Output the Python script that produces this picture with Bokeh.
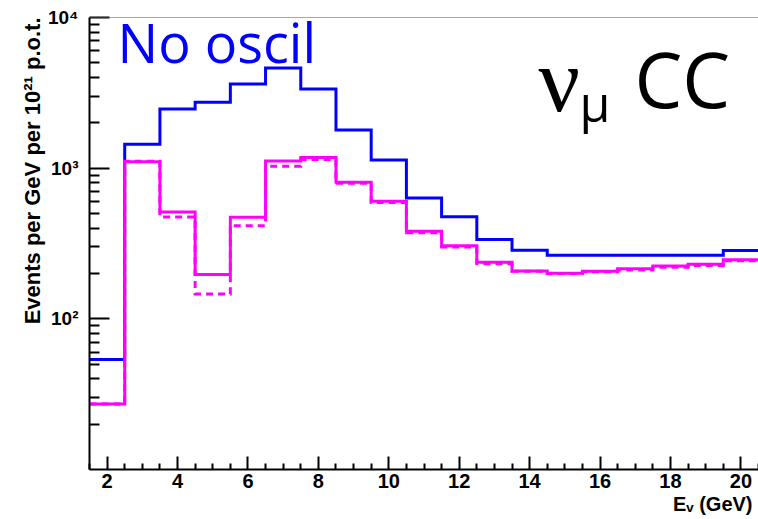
import math
from bokeh.plotting import figure
from bokeh.models import FixedTicker, CustomJSTickFormatter, Span, Title
from bokeh.core.properties import value
from bokeh.embed import file_html
from bokeh.resources import INLINE

# ---- data (events per GeV per 1e21 p.o.t., 1 GeV bins) ----
bin_edges = [1.5, 2.5, 3.5, 4.5, 5.5, 6.5, 7.5, 8.5, 9.5, 10.5, 11.5,
             12.5, 13.5, 14.5, 15.5, 16.5, 17.5, 18.5, 19.5, 20.5]
no_oscil = [53.7, 1439, 2473, 2740, 3614, 4621, 3350, 1792, 1131, 634,
            476, 336, 285, 264, 264, 264, 264, 264, 284]
oscil_solid = [27.2, 1101, 512, 197, 473, 1114, 1178, 807, 603, 382,
               305, 237, 208, 201, 207, 215, 224, 230, 247]
oscil_dashed = [27.2, 1110, 474, 146, 415, 1031, 1140, 795, 592, 372,
                300, 232, 207, 200, 205, 211, 220, 226, 243]
x_ticks = [2, 4, 6, 8, 10, 12, 14, 16, 18, 20]
x_minor = [1.5, 2.5, 3, 3.5, 4.5, 5, 5.5, 6.5, 7, 7.5, 8.5, 9, 9.5, 10.5, 11, 11.5,
           12.5, 13, 13.5, 14.5, 15, 15.5, 16.5, 17, 17.5, 18.5, 19, 19.5, 20.5]
y_ticks = [100, 1000, 10000]
y_minor = [20, 30, 40, 50, 60, 70, 80, 90, 200, 300, 400, 500, 600, 700, 800, 900,
           2000, 3000, 4000, 5000, 6000, 7000, 8000, 9000]
x_title = "E\u1d65 (GeV)"
y_title = "Events per GeV per 10\u00b2\u00b9 p.o.t."

BLUE = "#0000FF"
MAGENTA = "#FF00FF"

# frame geometry (screen px)
FL, FW, FT, FH = 89, 669, 17, 452
X0, X1 = 1.5, 20.5
Y0, Y1 = 10, 10000


def sx(px):
    return X0 + (px - FL) / FW * (X1 - X0)


def sy(py):
    return 10 ** (math.log10(Y1) - (py - FT) / FH * (math.log10(Y1) - math.log10(Y0)))


p = figure(width=758, height=519, y_axis_type="log",
           x_range=(X0, X1), y_range=(Y0, Y1),
           output_backend="svg", toolbar_location=None,
           min_border_left=FL, min_border_right=0,
           min_border_top=FT, min_border_bottom=519 - FT - FH)
p.background_fill_color = "white"
p.border_fill_color = "white"
p.outline_line_color = None
p.grid.visible = False


def steps(vals):
    return vals + [vals[-1]]


p.step(bin_edges, steps(no_oscil), mode="after", line_color=BLUE, line_width=3, line_join="miter")
p.step(bin_edges, steps(oscil_dashed), mode="after", line_color=MAGENTA, line_width=3,
       line_dash="7 5", line_join="miter")
p.step(bin_edges, steps(oscil_solid), mode="after", line_color=MAGENTA, line_width=3, line_join="miter")

p.add_layout(Span(location=Y1, dimension="width", line_color="#555555", line_width=1))

for ax in (p.xaxis[0], p.yaxis[0]):
    ax.axis_line_color = "black"
    ax.axis_line_width = 2
    ax.major_tick_line_color = "black"
    ax.major_tick_line_width = 2
    ax.minor_tick_line_color = "black"
    ax.minor_tick_line_width = 2
    ax.major_tick_out = 0
    ax.minor_tick_out = 0
    ax.major_label_text_font = "Liberation Sans"
    ax.major_label_text_font_style = "bold"
    ax.major_label_text_color = "black"

xa = p.xaxis[0]
xa.ticker = FixedTicker(ticks=x_ticks, minor_ticks=x_minor)
xa.major_tick_in = 13
xa.minor_tick_in = 6
xa.major_label_text_font_size = "20px"
xa.major_label_standoff = 4

ya = p.yaxis[0]
ya.ticker = FixedTicker(ticks=y_ticks, minor_ticks=y_minor)
ya.major_tick_in = 20
ya.minor_tick_in = 10
ya.major_label_text_font_size = "19px"
ya.major_label_standoff = 11
ya.formatter = CustomJSTickFormatter(code="""
const e = Math.round(Math.log10(tick));
const sup = {2: "\u00b2", 3: "\u00b3", 4: "\u2074"};
return "10" + (sup[e] || "");
""")

# axis titles, right-aligned at the axis ends (ROOT style)
p.add_layout(Title(text=x_title, align="right", offset=6, standoff=0,
                   text_font="Liberation Sans", text_font_style="bold",
                   text_font_size="20px", text_color="black"), "below")
p.add_layout(Title(text=y_title, align="right", standoff=0,
                   text_font="Liberation Sans", text_font_style="bold",
                   text_font_size="22px", text_color="black"), "left")

# in-plot texts (glyphs)
p.text(x=[sx(117)], y=[sy(41)], text=["No oscil"], text_align="left", text_baseline="alphabetic",
       text_font=value("Open Sans"), text_font_size="54px", text_color=BLUE)
p.text(x=[sx(538)], y=[sy(79)], text=["\u03bd"], text_align="left", text_baseline="alphabetic",
       text_font=value("Liberation Serif"), text_font_size="92px", text_color="black")
p.text(x=[sx(579)], y=[sy(102)], text=["\u03bc"], text_align="left", text_baseline="alphabetic",
       text_font=value("Open Sans"), text_font_size="50px", text_color="black")
p.text(x=[sx(634)], y=[sy(78)], text=["CC"], text_align="left", text_baseline="alphabetic",
       text_font=value("Open Sans"), text_font_size="76px", text_color="black")

open("out.html", "w").write(file_html(p, INLINE))
